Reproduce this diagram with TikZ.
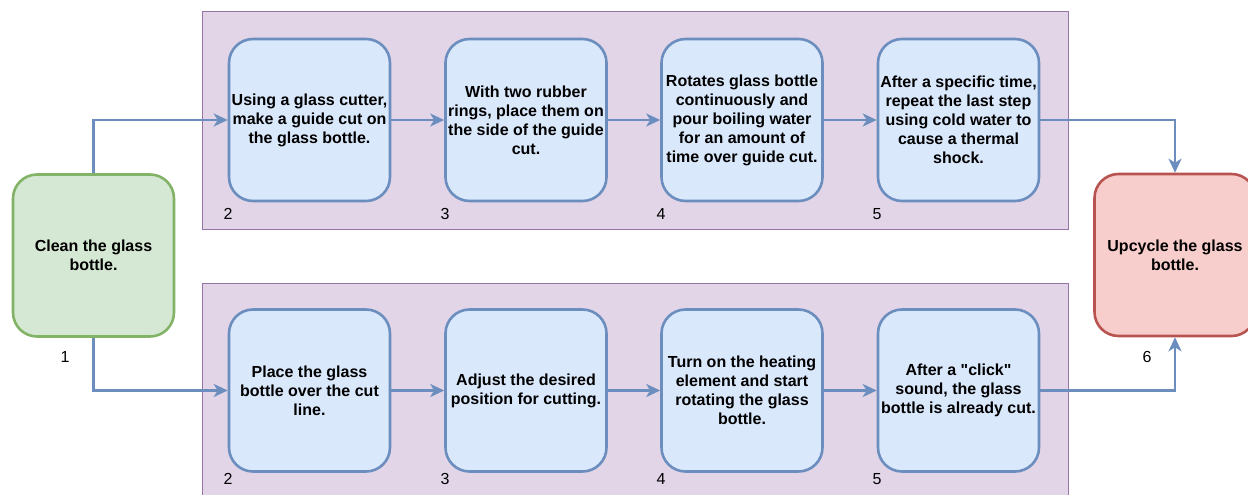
\documentclass[tikz,border=0pt]{standalone}
\usepackage{fontspec}
\setmainfont[Ligatures=TeXOff]{Liberation Sans}
\usetikzlibrary{arrows.meta}
\definecolor{bluefill}{HTML}{DAE8FC}
\definecolor{bluedraw}{HTML}{6C8EBF}
\definecolor{greenfill}{HTML}{D5E8D4}
\definecolor{greendraw}{HTML}{82B366}
\definecolor{redfill}{HTML}{F8CECC}
\definecolor{reddraw}{HTML}{B85450}
\definecolor{lanefill}{HTML}{E1D5E7}
\definecolor{lanedraw}{HTML}{9673A6}
\tikzset{
  stepbox/.style={draw=bluedraw, fill=bluefill, line width=2.6pt, rounded corners=24pt,
    minimum width=161pt, minimum height=162pt, inner sep=0pt, align=center,
    font=\bfseries\fontsize{16}{19}\selectfont},
  startbox/.style={stepbox, draw=greendraw, fill=greenfill},
  endbox/.style={stepbox, draw=reddraw, fill=redfill},
  lane/.style={draw=lanedraw, fill=lanefill, line width=1pt},
  num/.style={font=\fontsize{16}{19}\selectfont, inner sep=0pt},
  flow/.style={draw=bluedraw, line width=2.4pt, -{Stealth[length=14pt,width=13pt,inset=4pt]}}
}
\begin{document}
\begin{tikzpicture}[x=1pt,y=-1pt]
  \useasboundingbox (0,0) rectangle (1248,495);
  % lanes
  \draw[lane] (202,12) rectangle (1068,229);
  \draw[lane] (202,283) rectangle (1068,500);
  % start and end
  \node[startbox] (1) at (93.5,255.5) {Clean the glass\\bottle.};
  \node[endbox] (6) at (1175,255) {Upcycle the glass\\bottle.};
  % first way
  \node[stepbox] (t2) at (309.5,120) {Using a glass cutter,\\make a guide cut on\\the glass bottle.};
  \node[stepbox] (t3) at (526,120) {With two rubber\\rings, place them on\\the side of the guide\\cut.};
  \node[stepbox] (t4) at (742,120) {Rotates glass bottle\\continuously and\\pour boiling water\\for an amount of\\time over guide cut.};
  \node[stepbox] (t5) at (958.5,120) {After a specific time,\\repeat the last step\\using cold water to\\cause a thermal\\shock.};
  % second way
  \node[stepbox] (b2) at (309.5,390.5) {Place the glass\\bottle over the cut\\line.};
  \node[stepbox] (b3) at (526,390.5) {Adjust the desired\\position for cutting.};
  \node[stepbox] (b4) at (742,390.5) {Turn on the heating\\element and start\\rotating the glass\\bottle.};
  \node[stepbox] (b5) at (958.5,390.5) {After a "click"\\sound, the glass\\bottle is already cut.};
  % step numbers
  \node[num] (n1) at (65,357) {1};
  \node[num] (n6) at (1147,357) {6};
  \node[num] (nt2) at (228,214) {2};
  \node[num] (nt3) at (445,214) {3};
  \node[num] (nt4) at (661,214) {4};
  \node[num] (nt5) at (877,214) {5};
  \node[num] (nb2) at (228,479) {2};
  \node[num] (nb3) at (445,479) {3};
  \node[num] (nb4) at (661,479) {4};
  \node[num] (nb5) at (877,479) {5};
  % connectors
  \begin{scope}[flow]
    \draw (1.north) |- (t2.west);
    \draw (1.south) |- (b2.west);
    \draw (t2) -- (t3);
    \draw (t3) -- (t4);
    \draw (t4) -- (t5);
    \draw (b2) -- (b3);
    \draw (b3) -- (b4);
    \draw (b4) -- (b5);
    \draw (t5.east) -| (6.north);
    \draw (b5.east) -| (6.south);
  \end{scope}
\end{tikzpicture}
\end{document}
